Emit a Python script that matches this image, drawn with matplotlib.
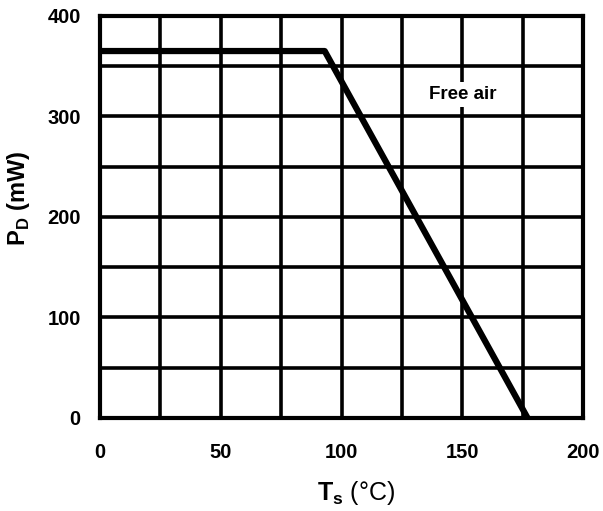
import matplotlib
matplotlib.use("Agg")
import matplotlib.pyplot as plt

plt.rcParams['font.family'] = ['Liberation Sans', 'DejaVu Sans']
plt.rcParams['mathtext.fontset'] = 'custom'
plt.rcParams['mathtext.rm'] = 'Liberation Sans'
plt.rcParams['mathtext.bf'] = 'Liberation Sans:bold'

# derating curve: power dissipation vs. soldering point temperature
temp = [0, 93, 177]
power = [365, 365, 0]

x_ticks = [0, 50, 100, 150, 200]
y_ticks = [0, 100, 200, 300, 400]

fig = plt.figure(figsize=(6.03, 5.11), dpi=100)
ax = fig.add_axes([0.166, 0.182, 0.801, 0.787])

ax.set_xlim(0, 200)
ax.set_ylim(0, 400)

# grid every 25 degrees and every 50 mW
for gx in range(25, 200, 25):
    ax.axvline(gx, color='black', lw=2.6, zorder=1)
for gy in range(50, 400, 50):
    ax.axhline(gy, color='black', lw=2.6, zorder=1)

ax.plot(temp, power, color='black', lw=4.5, solid_capstyle='butt',
        solid_joinstyle='round', zorder=3)

ax.text(150, 322, 'Free air', ha='center', va='center', fontsize=13.5,
        fontweight='bold', zorder=4,
        bbox=dict(facecolor='white', edgecolor='none', pad=3))

for s in ax.spines.values():
    s.set_linewidth(3)

ax.set_xticks(x_ticks)
ax.set_yticks(y_ticks)
ax.tick_params(length=0, labelsize=14.5, pad=14)
ax.tick_params(axis='x', pad=18)
for lab in ax.get_xticklabels() + ax.get_yticklabels():
    lab.set_fontweight('bold')

ax.set_xlabel(r'$\mathbf{T}_{\mathbf{s}}$ (°C)', fontsize=18)
ax.xaxis.set_label_coords(0.53, -0.152)
ax.set_ylabel(r'$\mathbf{P}_{\mathbf{D}}$ $\mathbf{(mW)}$', fontsize=17)
ax.yaxis.set_label_coords(-0.14, 0.545)

fig.savefig('out.png', dpi=100)
